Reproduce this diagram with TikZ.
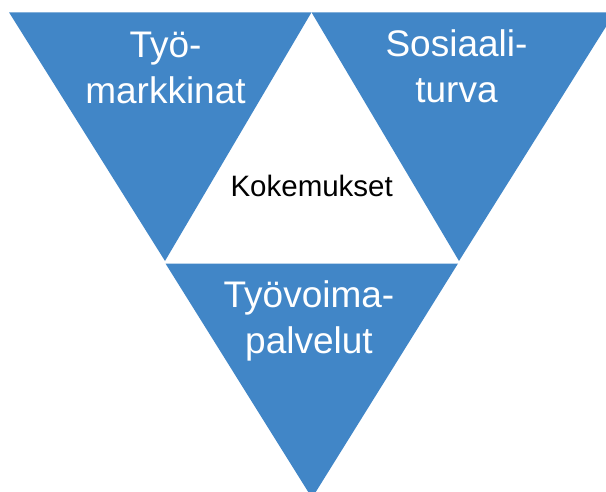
\documentclass[tikz,border=0pt]{standalone}
\usepackage{fontspec}
\setmainfont{Liberation Sans}
\definecolor{triblue}{RGB}{65,134,199}
\tikzset{
  tri/.style={fill=triblue, draw=none},
  biglabel/.style={text=white, align=center, inner sep=0pt, anchor=base,
    font=\fontsize{37}{46}\selectfont},
  midlabel/.style={text=black, inner sep=0pt, anchor=base,
    font=\fontsize{29.5}{35}\selectfont}
}
\begin{document}
\begin{tikzpicture}[x=1pt,y=-1pt]
  \useasboundingbox (0,0) rectangle (606,491);
  \clip (0,0) rectangle (606,491);
  \fill[white] (0,0) rectangle (606,491);
  % corner points
  \coordinate (TL) at (9,12.3);
  \coordinate (TM) at (311.5,12.3);
  \coordinate (TR) at (615,12.3);
  \coordinate (LA) at (165,261);
  \coordinate (RA) at (459,261);
  \coordinate (BL) at (165.5,263.5);
  \coordinate (BR) at (458,263.5);
  \coordinate (BA) at (312,498);
  % triangles
  \fill[tri] (TL) -- (TM) -- (LA) -- cycle;
  \fill[tri] (TM) -- (TR) -- (RA) -- cycle;
  \fill[tri] (BL) -- (BR) -- (BA) -- cycle;
  % labels (anchor = baseline of last line)
  \node[biglabel] (tyomarkkinat) at (165.5,103) {Työ-\\markkinat};
  \node[biglabel] (sosiaaliturva) at (456.5,102) {Sosiaali-\\turva};
  \node[biglabel] (tyovoimapalvelut) at (309,353.5) {Työvoima-\\palvelut};
  \node[midlabel] (kokemukset) at (311.7,196.7) {Kokemukset};
\end{tikzpicture}
\end{document}
